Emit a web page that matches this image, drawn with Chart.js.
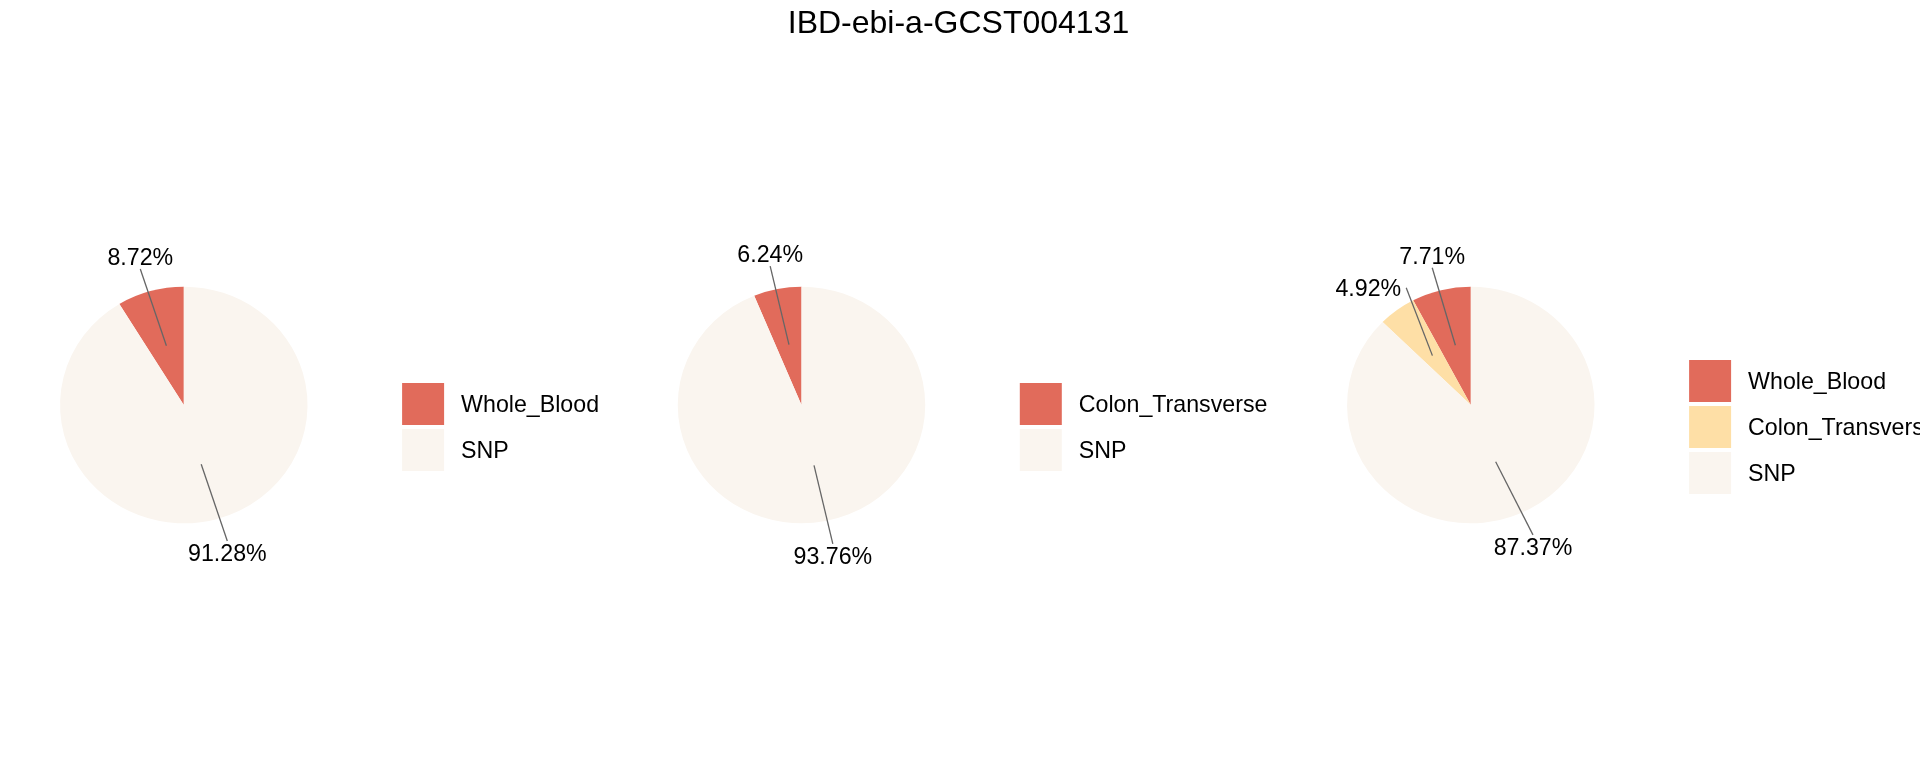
<!DOCTYPE html>
<html>
<head>
<meta charset="utf-8">
<script src="https://cdn.jsdelivr.net/npm/chart.js@4.4.0/dist/chart.umd.min.js"></script>
<style>
  html, body { margin: 0; padding: 0; background: #fff; overflow: hidden; }
  #wrap { position: relative; width: 1920px; height: 768px; }
  canvas { position: absolute; left: 0; top: 0; }
</style>
</head>
<body>
<div id="wrap">
  <canvas id="pie1" width="1920" height="768"></canvas>
  <canvas id="pie2" width="1920" height="768"></canvas>
  <canvas id="pie3" width="1920" height="768"></canvas>
</div>
<script>
const chartTitle = 'IBD-ebi-a-GCST004131';

const pie1Labels = ['Whole_Blood', 'SNP'];
const pie1Values = [8.72, 91.28];

const pie2Labels = ['Colon_Transverse', 'SNP'];
const pie2Values = [6.24, 93.76];

const pie3Labels = ['Whole_Blood', 'Colon_Transverse', 'SNP'];
const pie3Values = [7.71, 4.92, 87.37];

const tissueColors = ['#E16B5B', '#FEDFA6'];
const snpColor = '#FAF5EF';
const FONT = '"Liberation Sans", Arial, Helvetica, sans-serif';
const TEXT_PX = 23.2;

// layout, px
const W = 1920, H = 768;
const RY = 118.3;   // vertical radius
const SX = 1.046;   // the R pies are a bit wider than tall
const panels = [
  { id: 'pie1', cx: 183.8, cy: 405, labels: pie1Labels, values: pie1Values },
  { id: 'pie2', cx: 801.5, cy: 405, labels: pie2Labels, values: pie2Values },
  { id: 'pie3', cx: 1470.8, cy: 405, labels: pie3Labels, values: pie3Values }
];

// point on the mid angle of a slice, f = fraction of radius (mirrored like coord_polar)
function slicePoint(arc, f) {
  const a = (arc.startAngle + arc.endAngle) / 2;
  return {
    x: arc.x - SX * Math.cos(a) * f * arc.outerRadius,
    y: arc.y + Math.sin(a) * f * arc.outerRadius
  };
}

const pieDecor = {
  id: 'pieDecor',
  beforeDatasetsDraw(chart) {
    const arc = chart.getDatasetMeta(0).data[0];
    const ctx = chart.ctx;
    ctx.save();
    ctx.translate(arc.x, arc.y);
    ctx.scale(-SX, 1); // slices go anticlockwise, squashed to an ellipse
    ctx.translate(-arc.x, -arc.y);
  },
  afterDatasetsDraw(chart) {
    chart.ctx.restore();
  },
  afterDraw(chart, args, opts) {
    const ctx = chart.ctx;
    const meta = chart.getDatasetMeta(0);
    const ds = chart.data.datasets[0];
    const values = ds.data;
    const total = values.reduce((a, b) => a + b, 0);
    const center = meta.data[0];

    ctx.save();
    ctx.font = TEXT_PX + 'px ' + FONT;

    const boxes = meta.data.map((arc, i) => {
      const text = (values[i] / total * 100).toFixed(2) + '%';
      const c = slicePoint(arc, 1.3);
      const tw = ctx.measureText(text).width;
      return { text, x: c.x, y: c.y, hw: tw / 2 + 5, hh: 12, from: slicePoint(arc, 0.52) };
    });

    // tiny repel so neighbouring labels don't touch (prefers vertical moves)
    const pad = 4;
    for (let iter = 0; iter < 200; iter++) {
      let moved = false;
      for (let i = 0; i < boxes.length; i++) {
        for (let j = i + 1; j < boxes.length; j++) {
          const a = boxes[i], b = boxes[j];
          const ox = a.hw + b.hw + 2 * pad - Math.abs(a.x - b.x);
          const oy = a.hh + b.hh + 2 * pad - Math.abs(a.y - b.y);
          if (ox > 0 && oy > 0) {
            const dx = (b.x - a.x) * 0.5, dy = b.y - a.y;
            const d = Math.hypot(dx, dy) || 1;
            b.x += 0.5 * dx / d;
            b.y += 0.5 * dy / d;
            moved = true;
          }
        }
      }
      if (!moved) break;
    }

    // leader segments to nearest side midpoint of each label box
    ctx.strokeStyle = '#666666';
    ctx.lineWidth = 1.3;
    boxes.forEach(b => {
      const sides = [
        { x: b.x, y: b.y + b.hh }, { x: b.x, y: b.y - b.hh },
        { x: b.x - b.hw, y: b.y }, { x: b.x + b.hw, y: b.y }
      ];
      let best = sides[0], bd = Infinity;
      sides.forEach(s => {
        const d = Math.hypot(s.x - b.from.x, s.y - b.from.y);
        if (d < bd) { bd = d; best = s; }
      });
      ctx.beginPath();
      ctx.moveTo(b.from.x, b.from.y);
      ctx.lineTo(best.x, best.y);
      ctx.stroke();
    });

    ctx.fillStyle = '#000';
    ctx.textAlign = 'center';
    ctx.textBaseline = 'alphabetic';
    boxes.forEach(b => ctx.fillText(b.text, b.x, b.y + 8));

    // legend
    const key = 42, gap = 4;
    const n = chart.data.labels.length;
    const keyX = center.x + 218.3;
    let top = center.y + 22 - (n * (key + gap) - gap) / 2;
    ctx.textAlign = 'left';
    chart.data.labels.forEach((lab, i) => {
      ctx.fillStyle = ds.backgroundColor[i];
      ctx.fillRect(keyX, top, key, key);
      ctx.fillStyle = '#000';
      ctx.fillText(lab, keyX + key + 17, top + key / 2 + 8);
      top += key + gap;
    });

    if (opts.title) {
      ctx.font = '32px ' + FONT;
      ctx.textAlign = 'center';
      ctx.fillText(opts.title, 958.5, 32.7);
    }
    ctx.restore();
  }
};

panels.forEach((p, idx) => {
  const colors = p.labels.map((l, i) => l === 'SNP' ? snpColor : tissueColors[i]);
  new Chart(document.getElementById(p.id), {
    type: 'pie',
    data: {
      labels: p.labels,
      datasets: [{
        data: p.values,
        backgroundColor: colors,
        borderWidth: 0,
        radius: RY
      }]
    },
    options: {
      responsive: false,
      animation: false,
      events: [],
      layout: {
        padding: { left: p.cx - 140, right: W - p.cx - 140, top: p.cy - 140, bottom: H - p.cy - 140 }
      },
      plugins: {
        legend: { display: false },
        tooltip: { enabled: false },
        pieDecor: { title: idx === 0 ? chartTitle : null }
      }
    },
    plugins: [pieDecor]
  });
});
</script>
</body>
</html>
